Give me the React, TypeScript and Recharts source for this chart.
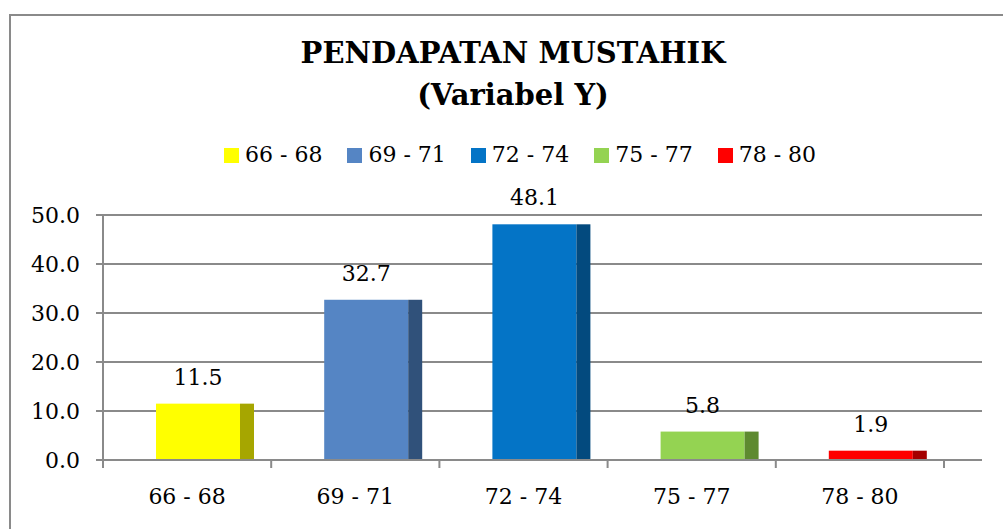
import { BarChart, Bar, XAxis, YAxis, CartesianGrid, LabelList } from "recharts";

const categories = ["66 - 68", "69 - 71", "72 - 74", "75 - 77", "78 - 80"];
const values = [11.5, 32.7, 48.1, 5.8, 1.9];
const yTicks = [0, 10, 20, 30, 40, 50];

const FACE_COLORS = ["#FFFF00", "#5585C4", "#0474C6", "#94D352", "#FF0000"];
const SIDE_COLORS = ["#A6A600", "#30517A", "#034A7E", "#5E8A30", "#A40000"];

const W = 1003;
const H = 529;
const X_AXIS_H = 30;
const MARGIN = { top: 215, right: 21, bottom: 69 - X_AXIS_H, left: 0 };
const Y_AXIS_W = 103;
const X_PAD_RIGHT = 38;
const BAND = (W - Y_AXIS_W - MARGIN.right - X_PAD_RIGHT) / categories.length;
const PLOT_BOTTOM = 460;
const BAR_SIZE = 98;
const SIDE_W = 14;
const BAR_SHIFT = 18;
const FONT = '"DejaVu Serif", serif';
const GRID = "#8a8a8a";

const data = categories.map((c, i) => ({ category: c, value: values[i] }));

function BarShape(props: any) {
  const { x, y, width, height, payload } = props;
  const i = categories.indexOf(payload.category);
  const fx = x + BAR_SHIFT;
  return (
    <g>
      <rect x={fx} y={y} width={width - SIDE_W} height={height} fill={FACE_COLORS[i]} />
      <rect x={fx + width - SIDE_W} y={y} width={SIDE_W} height={height} fill={SIDE_COLORS[i]} />
    </g>
  );
}

function ValueLabel(props: any) {
  const { x, y, width, value } = props;
  return (
    <text
      x={x + BAR_SHIFT + (width - SIDE_W) / 2}
      y={y - 19}
      textAnchor="middle"
      fontFamily={FONT}
      fontSize={22}
      fill="#000"
    >
      {Number(value).toFixed(1)}
    </text>
  );
}

function CategoryTick(props: any) {
  const { x, payload, index } = props;
  const half = BAND / 2;
  return (
    <g>
      <line x1={x - half} x2={x - half} y1={PLOT_BOTTOM} y2={PLOT_BOTTOM + 8} stroke={GRID} strokeWidth={2} />
      {index === categories.length - 1 && (
        <line x1={x + half} x2={x + half} y1={PLOT_BOTTOM} y2={PLOT_BOTTOM + 8} stroke={GRID} strokeWidth={2} />
      )}
      <text x={x} y={PLOT_BOTTOM + 44} textAnchor="middle" fontFamily={FONT} fontSize={22} fill="#000">
        {payload.value}
      </text>
    </g>
  );
}

export default function App() {
  return (
    <div style={{ position: "absolute", left: 0, top: 0, width: W, height: H, background: "#fff", overflow: "hidden" }}>
      <div
        style={{
          position: "absolute",
          left: 9,
          top: 14,
          width: W,
          height: H,
          border: `2px solid ${GRID}`,
          boxSizing: "border-box",
        }}
      />
      <div
        style={{
          position: "absolute",
          left: 0,
          top: 32,
          width: 1026,
          textAlign: "center",
          fontFamily: FONT,
          fontWeight: "bold",
          fontSize: 29,
          lineHeight: "42px",
          color: "#000",
        }}
      >
        <div>PENDAPATAN MUSTAHIK</div>
        <div>(Variabel Y)</div>
      </div>
      <div
        style={{
          position: "absolute",
          left: 224,
          top: 140,
          display: "flex",
          alignItems: "center",
          fontFamily: FONT,
          fontSize: 22,
          lineHeight: "30px",
          color: "#000",
        }}
      >
        {categories.map((c, i) => (
          <div key={c} style={{ display: "flex", alignItems: "center", marginRight: 25 }}>
            <span style={{ width: 15, height: 15, background: FACE_COLORS[i], marginRight: 6 }} />
            <span>{c}</span>
          </div>
        ))}
      </div>
      <div style={{ position: "absolute", left: 0, top: 0 }}>
        <BarChart width={W} height={H} data={data} margin={MARGIN}>
          <CartesianGrid horizontal vertical={false} stroke={GRID} strokeWidth={2} />
          <XAxis
            dataKey="category"
            height={X_AXIS_H}
            padding={{ left: 0, right: X_PAD_RIGHT }}
            axisLine={{ stroke: GRID, strokeWidth: 2 }}
            tickLine={false}
            tick={<CategoryTick />}
            interval={0}
          />
          <YAxis
            width={Y_AXIS_W}
            domain={[0, 50]}
            ticks={yTicks}
            tickFormatter={(v: number) => v.toFixed(1)}
            axisLine={{ stroke: GRID, strokeWidth: 2 }}
            tickLine={{ stroke: GRID, strokeWidth: 2 }}
            tickSize={7}
            tickMargin={16}
            tick={{ fontFamily: FONT, fontSize: 22, fill: "#000" }}
          />
          <Bar dataKey="value" barSize={BAR_SIZE} shape={<BarShape />} isAnimationActive={false}>
            <LabelList dataKey="value" content={<ValueLabel />} />
          </Bar>
        </BarChart>
      </div>
    </div>
  );
}
